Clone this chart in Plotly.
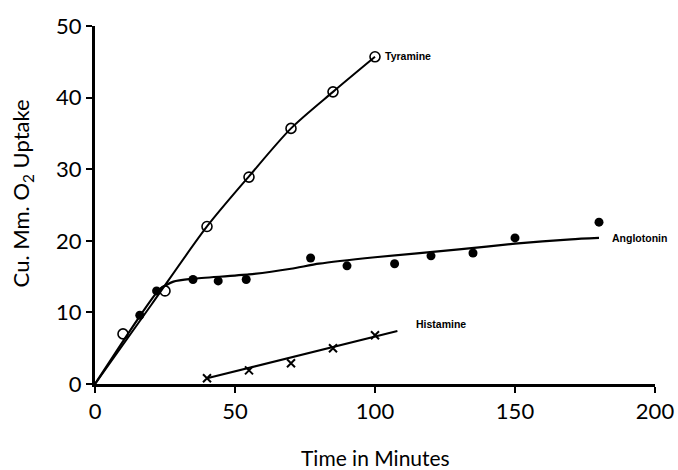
import plotly.graph_objects as go

# Measured points
tyr_x = [10, 25, 40, 55, 70, 85, 100]
tyr_y = [7.0, 13.0, 22.0, 28.9, 35.7, 40.8, 45.7]
# Drawn smooth curve through Tyramine
tyr_cx = [0, 20, 40, 55, 70, 85, 100]
tyr_cy = [0, 11.0, 22.0, 29.0, 35.7, 40.8, 45.7]

ang_x = [16, 22, 35, 44, 54, 77, 90, 107, 120, 135, 150, 180]
ang_y = [9.6, 13.0, 14.6, 14.4, 14.6, 17.6, 16.5, 16.8, 17.9, 18.3, 20.4, 22.6]
ang_cx = [0, 15, 23, 28, 35, 55, 70, 80, 100, 130, 150, 170, 180]
ang_cy = [0, 8.9, 13.2, 14.3, 14.7, 15.3, 16.1, 16.8, 17.7, 18.8, 19.6, 20.2, 20.4]

his_x = [40, 55, 70, 85, 100]
his_y = [0.8, 1.9, 2.9, 5.0, 6.8]
his_cx = [40, 108]
his_cy = [0.8, 7.4]

x_ticks = [0, 50, 100, 150, 200]
y_ticks = [0, 10, 20, 30, 40, 50]

labels = ["Tyramine", "Anglotonin", "Histamine"]
label_x = [103, 184, 114]
label_y = [45.8, 20.4, 8.4]

x_title = "Time in Minutes"
y_title = "Cu. Mm. O<sub>2</sub> Uptake"

fig = go.Figure()

fig.add_trace(go.Scatter(x=tyr_cx, y=tyr_cy, mode="lines",
                         line=dict(color="black", width=2, shape="spline", smoothing=0.8), hoverinfo="skip"))
fig.add_trace(go.Scatter(x=ang_cx, y=ang_cy, mode="lines",
                         line=dict(color="black", width=2.2, shape="spline", smoothing=0.6), hoverinfo="skip"))
fig.add_trace(go.Scatter(x=his_cx, y=his_cy, mode="lines",
                         line=dict(color="black", width=2), hoverinfo="skip"))

fig.add_trace(go.Scatter(x=tyr_x, y=tyr_y, mode="markers",
                         marker=dict(symbol="circle-open", size=10, color="black", line=dict(width=1.6))))
fig.add_trace(go.Scatter(x=ang_x, y=ang_y, mode="markers",
                         marker=dict(symbol="circle", size=9, color="black")))
fig.add_trace(go.Scatter(x=his_x, y=his_y, mode="markers",
                         marker=dict(symbol="x-thin", size=8, color="black", line=dict(width=2, color="black"))))

for t, lx, ly in zip(labels, label_x, label_y):
    fig.add_annotation(x=lx, y=ly, text="<b>" + t + "</b>", showarrow=False, xanchor="left",
                       font=dict(family="Liberation Sans", size=10.5, color="black"))

# Axis titles
fig.add_annotation(xref="paper", yref="paper", x=0.5, y=-0.204, text=x_title, showarrow=False,
                   xanchor="center", yanchor="middle", font=dict(family="Lato", size=21, color="black"))
fig.add_annotation(xref="paper", yref="paper", x=-0.13, y=0.533, text=y_title, showarrow=False,
                   textangle=-90, xanchor="center", yanchor="middle",
                   font=dict(family="Lato", size=22, color="black"))

axis_common = dict(showgrid=False, zeroline=False, showline=True, linecolor="black", linewidth=3,
                   ticks="outside", ticklen=6, tickwidth=2, tickcolor="black", automargin=False,
                   tickfont=dict(family="Lato", size=22, color="black"))

fig.update_layout(
    width=678, height=470,
    margin=dict(l=95, r=23, t=26, b=86),
    paper_bgcolor="white", plot_bgcolor="white",
    showlegend=False,
    font=dict(family="Lato", color="black"),
    xaxis=dict(range=[0, 200], tickvals=x_ticks, ticktext=[str(v) for v in x_ticks], **axis_common),
    yaxis=dict(range=[0, 50], tickvals=y_ticks, ticktext=[str(v) for v in y_ticks], **axis_common),
)
for tr in fig.data:
    tr.cliponaxis = False

fig.write_html("out.html")
